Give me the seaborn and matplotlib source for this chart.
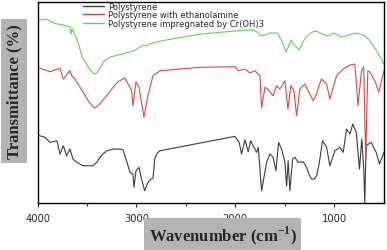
import pandas as pd
import seaborn as sns
import matplotlib.pyplot as plt

# spectra (wavenumber cm-1, transmittance in arbitrary offset units)
wn_ps = [4000, 3926, 3876, 3805, 3774, 3741, 3707, 3673, 3643, 3602, 3542, 3440, 3400,
         3370, 3330, 3299, 3230, 3167, 3137, 3096, 3066, 3036, 3025, 3005, 2975, 2944,
         2917, 2884, 2853, 2833, 2815, 2790, 2762, 2357, 2003, 1960, 1936, 1902, 1869,
         1844, 1811, 1784, 1767, 1733, 1683, 1649, 1616, 1588, 1561, 1531, 1497, 1480,
         1464, 1447, 1419, 1396, 1363, 1312, 1278, 1250, 1227, 1200, 1176, 1150, 1116,
         1075, 1042, 991, 941, 907, 873, 839, 810, 775, 742, 719, 699, 689, 675, 624,
         573, 540, 495]
t_ps = [68, 65.7, 60.7, 62.3, 49, 57.3, 47.3, 54, 44, 40.7, 37.3, 37.3, 41,
        45.7, 50, 52.3, 54, 54, 53.3, 40.7, 30.7, 29, 15.7, 32.3, 35.7, 22.3,
        12.3, 20.7, 24, 24.7, 44, 50, 52.3, 60, 66.7, 60.7, 49, 63.3, 51.3,
        62.3, 55.7, 50.7, 55.7, 12.3, 40.7, 49, 45.7, 32.3, 60.7, 54, 40.7, 17.3,
        42.3, 12.3, 44, 45.7, 40.7, 41.3, 35.7, 28, 24, 24, 27.3, 40, 62.3,
        55.7, 37.3, 52.3, 55.7, 50.7, 74, 69, 79, 70.7, 34, 64, 34, 0, 57.3, 60.7,
        50.7, 39, 50.7]

wn_pse = [4000, 3876, 3774, 3741, 3673, 3656, 3623, 3542, 3480, 3427, 3380, 3340, 3302,
          3250, 3190, 3137, 3116, 3049, 3036, 3005, 2975, 2924, 2884, 2833, 2762, 2357,
          2003, 1970, 1902, 1852, 1801, 1750, 1733, 1699, 1669, 1618, 1581, 1548, 1497,
          1467, 1437, 1406, 1379, 1346, 1295, 1250, 1211, 1180, 1150, 1126, 1075, 1042,
          974, 907, 839, 789, 757, 722, 699, 679, 658, 637, 587, 547, 495]
t_pse = [135.7, 131.3, 134.7, 124, 132.3, 127.3, 124, 111, 101, 95, 98, 103, 107.3,
         114, 121, 124, 125, 112.3, 97.3, 121, 116, 86, 107.3, 127.3, 132.3, 135.7,
         136.3, 132.3, 134, 130, 132.3, 127.3, 95, 115.7, 114, 107.3, 117.3, 114, 122.3,
         94, 117.3, 112.3, 87.3, 114, 119, 110, 102.3, 108, 118, 124, 119, 104,
         127.3, 134, 138, 139, 97.3, 132.3, 136, 44, 132, 131, 122.3, 111, 132.3]

wn_cr = [4000, 3950, 3908, 3860, 3800, 3740, 3670, 3661, 3650, 3603, 3549, 3500, 3460,
         3424, 3400, 3370, 3336, 3300, 3265, 3031, 2929, 2900, 2870, 2838, 2756, 2350,
         2000, 1824, 1780, 1740, 1700, 1650, 1569, 1530, 1485, 1460, 1434, 1400, 1353,
         1310, 1264, 1220, 1180, 1120, 1061, 1000, 926, 850, 773, 700, 654, 600, 552,
         520, 495]
t_cr = [184, 183, 184, 181, 179, 178, 176, 169, 174, 164, 146, 138, 132,
        129, 130, 135, 141, 144, 146, 152, 158, 157, 159, 160, 162, 169,
        172, 173.3, 171, 167, 168, 170, 170, 162, 151, 157, 163, 158, 153,
        162, 168, 171, 172, 169, 167, 170, 166, 168, 170, 168, 164, 157, 149,
        144, 139]

labels = ["Polystyrene", "Polystyrene with ethanolamine",
          "Polystyrene impregnated by Cr(OH)3"]
colors = ["#3c3c3c", "#d84848", "#58d458"]

df = pd.concat([
    pd.DataFrame({"wn": wn_ps, "T": t_ps, "sample": labels[0]}),
    pd.DataFrame({"wn": wn_pse, "T": t_pse, "sample": labels[1]}),
    pd.DataFrame({"wn": wn_cr, "T": t_cr, "sample": labels[2]}),
])

sns.set_style("ticks")
plt.rcParams['font.family'] = ['DejaVu Sans']
plt.rcParams['mathtext.fontset'] = 'custom'
plt.rcParams['mathtext.rm'] = 'Liberation Serif:bold'
plt.rcParams['mathtext.bf'] = 'Liberation Serif:bold'

fig = plt.figure(figsize=(3.87, 2.51), dpi=100)
ax = fig.add_axes([0.0974, 0.187, 0.8946, 0.801])
sns.lineplot(data=df, x="wn", y="T", hue="sample", palette=colors,
             estimator=None, sort=False, lw=0.8, ax=ax)

ax.set_xlim(4000, 495)
ax.set_ylim(0, 201)
ax.set_xticks([4000, 3000, 2000, 1000])
ax.set_xticks([3500, 2500, 1500], minor=True)
ax.set_yticks([])
ax.tick_params(axis="x", labelsize=7.2, length=3, width=0.8, pad=4, direction="out")
ax.tick_params(axis="x", which="minor", length=2, width=0.8)
for s in ax.spines.values():
    s.set_linewidth(1.0)
    s.set_color("black")
ax.set_xlabel("")
ax.set_ylabel("")

leg = ax.legend(loc="upper left", bbox_to_anchor=(0.113, 1.03), frameon=False,
                fontsize=6, handlelength=2.6, handletextpad=0.5,
                labelspacing=-0.05, borderpad=0.2)
for h in leg.get_lines():
    h.set_linewidth(1.0)

box = dict(boxstyle="square,pad=0.3", facecolor="#b4b4b4", edgecolor="none")
fig.text(0.0367, 0.633, "Transmittance (%)", rotation=90, ha="center", va="center",
         family="Liberation Serif", fontweight="bold", fontsize=12, bbox=box)
fig.text(0.575, 0.062, "Wavenumber (cm$^{\\mathbf{-1}}$)", ha="center", va="center",
         family="Liberation Serif", fontweight="bold", fontsize=12, bbox=box)

fig.savefig("out.png", dpi=100)
